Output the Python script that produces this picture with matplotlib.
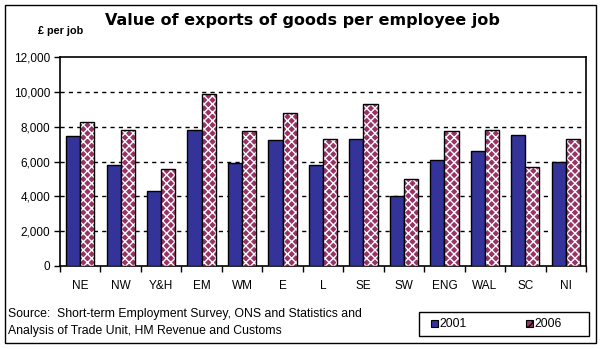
import numpy as np
import matplotlib.pyplot as plt
from matplotlib.patches import Rectangle

regions = ['NE', 'NW', 'Y&H', 'EM', 'WM', 'E', 'L', 'SE', 'SW', 'ENG', 'WAL', 'SC', 'NI']
val_2001 = [7480, 5810, 4320, 7820, 5930, 7250, 5810, 7300, 4030, 6100, 6620, 7530, 5980]
val_2006 = [8280, 7820, 5580, 9890, 7760, 8800, 7300, 9330, 5010, 7760, 7820, 5700, 7300]
yticks = [0, 2000, 4000, 6000, 8000, 10000, 12000]

plt.rcParams['font.family'] = ['Liberation Sans', 'DejaVu Sans']
plt.rcParams['hatch.linewidth'] = 1.0

navy = '#333399'
plum = '#993366'

fig = plt.figure(figsize=(6.02, 3.49), dpi=100)
ax = fig.add_axes([60 / 602, 1 - 266 / 349, 526 / 602, 209 / 349])

x = np.arange(len(regions))
w = 0.35
ax.bar(x - w / 2, val_2001, w, color=navy, edgecolor='black', linewidth=1, zorder=3)
# checkered pattern for 2006: plum base with white hatch, then black outline
ax.bar(x + w / 2, val_2006, w, color=plum, edgecolor='none', linewidth=0, zorder=3)
ax.bar(x + w / 2, val_2006, w, color='none', edgecolor='white', hatch='xxxx', linewidth=0, zorder=3)
ax.bar(x + w / 2, val_2006, w, color='none', edgecolor='black', linewidth=1, zorder=4)

ax.set_xlim(-0.5, len(regions) - 0.5)
ax.set_ylim(0, 12000)
ax.set_yticks(yticks)
ax.set_yticklabels([f'{v:,}' for v in yticks], fontsize=8.5)
ax.set_xticks(np.arange(len(regions) + 1) - 0.5)
ax.set_xticklabels([])
ax.set_xticks(x, minor=True)
ax.set_xticklabels(regions, minor=True, fontsize=8.5)
ax.tick_params(axis='x', which='minor', length=0, pad=10)
ax.tick_params(axis='x', which='major', length=4, direction='out', width=1)
ax.tick_params(axis='y', length=4, direction='out', width=1, pad=3)
for v in yticks[1:-1]:
    ax.axhline(v, color='black', linestyle=(0, (3, 3)), linewidth=1, zorder=1)
for s in ax.spines.values():
    s.set_linewidth(1.2)

fig.text(302 / 602, 1 - 20 / 349, 'Value of exports of goods per employee job',
         ha='center', va='center', fontsize=11.5, fontweight='bold', family='DejaVu Sans')
fig.text(38 / 602, 1 - 31 / 349, '£ per job', ha='left', va='center',
         fontsize=7.8, fontweight='bold')
fig.text(8 / 602, 1 - 314 / 349, 'Source:  Short-term Employment Survey, ONS and Statistics and',
         ha='left', va='center', fontsize=8.8)
fig.text(8 / 602, 1 - 331 / 349, 'Analysis of Trade Unit, HM Revenue and Customs',
         ha='left', va='center', fontsize=8.8)

# legend box
fig.patches.append(Rectangle((419 / 602, 1 - 336 / 349), 170 / 602, 24 / 349,
                             transform=fig.transFigure, facecolor='white',
                             edgecolor='black', linewidth=1))
fig.patches.append(Rectangle((431 / 602, 1 - 327 / 349), 7 / 602, 7 / 349,
                             transform=fig.transFigure, facecolor=navy,
                             edgecolor='black', linewidth=0.8))
fig.patches.append(Rectangle((526 / 602, 1 - 327 / 349), 7 / 602, 7 / 349,
                             transform=fig.transFigure, facecolor=plum, hatch='xxx',
                             edgecolor='black', linewidth=0.8))
fig.text(439 / 602, 1 - 324 / 349, '2001', ha='left', va='center', fontsize=8.8)
fig.text(534 / 602, 1 - 324 / 349, '2006', ha='left', va='center', fontsize=8.8)

# outer frame
fig.patches.append(Rectangle((5 / 602, 1 - 343 / 349), 591 / 602, 338 / 349,
                             transform=fig.transFigure, facecolor='none',
                             edgecolor='black', linewidth=1))

fig.savefig('out.png', dpi=100)
